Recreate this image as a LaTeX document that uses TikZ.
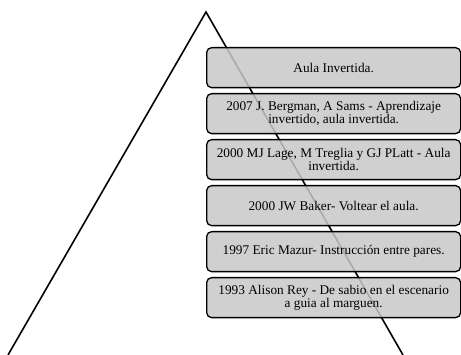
\documentclass[tikz,border=0pt]{standalone}
\usepackage{fontspec}
\setmainfont{Liberation Serif}
\begin{document}
\begin{tikzpicture}[x=1pt,y=-1pt,
  stage/.style={draw=black, line width=1.3pt, rounded corners=5pt,
    fill={rgb,255:red,200;green,200;blue,200}, fill opacity=0.85, text opacity=1,
    minimum width=254pt, minimum height=40pt, anchor=north west,
    align=center, inner sep=1pt,
    font=\fontsize{13.3pt}{12pt}\selectfont},
  edge/.style={draw=black, line width=1.6pt}]
\useasboundingbox (0,0) rectangle (461,355);
% pyramid outline
\coordinate (apex) at (206,12);
\coordinate (bl) at (8,355);
\coordinate (br) at (403,355);
\draw[edge] (bl) -- (apex) -- (br);
% stages
\node[stage] (s1) at (206,47) {Aula Invertida.};
\node[stage] (s2) at (206,93) {2007 J. Bergman, A Sams - Aprendizaje\\invertido, aula invertida.};
\node[stage] (s3) at (206,139) {2000 MJ Lage, M Treglia y GJ PLatt - Aula\\invertida.};
\node[stage] (s4) at (206,185) {2000 JW Baker- Voltear el aula.};
\node[stage] (s5) at (206,231) {1997 Eric Mazur- Instrucción entre pares.};
\node[stage] (s6) at (206,277) {1993 Alison Rey - De sabio en el escenario\\a guia al marguen.};
\end{tikzpicture}
\end{document}
